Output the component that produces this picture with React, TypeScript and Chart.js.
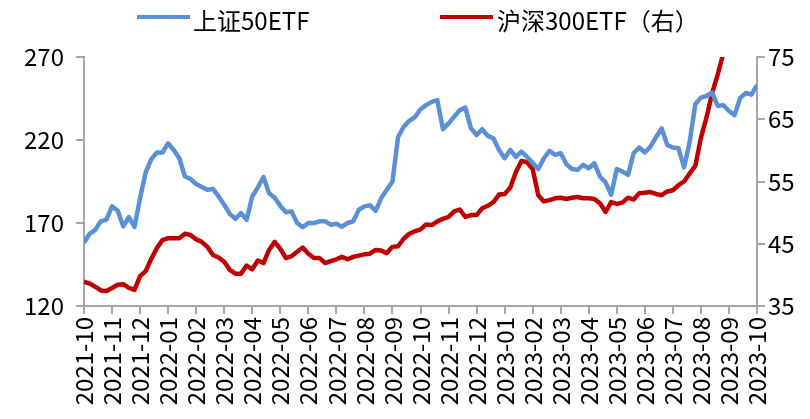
import React, { useEffect, useRef } from 'react';
import { Chart, registerables } from 'chart.js';

Chart.register(...registerables);

// Month tick labels (x axis), one per month
const monthLabels = [
  '2021-10', '2021-11', '2021-12', '2022-01', '2022-02', '2022-03', '2022-04',
  '2022-05', '2022-06', '2022-07', '2022-08', '2022-09', '2022-10', '2022-11',
  '2022-12', '2023-01', '2023-02', '2023-03', '2023-04', '2023-05', '2023-06',
  '2023-07', '2023-08', '2023-09', '2023-10',
];

// Samples every 0.2 month starting 2021-10
const SAMPLE_STEP = 0.2;

// 上证50ETF (left axis)
const sz50 = [
  158, 163.5, 165.8, 171, 172, 180, 177.5, 168, 173.5, 167.6,
  185, 200.5, 208.5, 212.5, 212.5, 218, 214, 209, 198, 196.5,
  193.5, 191.7, 190, 190.5, 186, 181, 175.5, 172.5, 176, 172,
  186, 191.5, 197.7, 188, 185.2, 180.3, 176.5, 177, 170, 167.5,
  170, 170, 171, 171, 169, 169.5, 167.8, 170, 171, 178,
  180, 180.7, 177.3, 185, 190, 195, 221.8, 228, 231.5, 233.8,
  238.5, 241, 243, 244, 226.5, 230, 234, 238, 239.5, 227,
  223, 226.5, 222.5, 221, 214, 209, 214, 209.8, 213, 209.8,
  206.2, 202.5, 209, 213.5, 211, 212, 205.5, 202.5, 202, 205,
  203, 206, 198, 194.5, 187, 202.5, 201, 199, 212, 215.5,
  212.5, 216, 221.8, 227, 217, 215.5, 215, 203.5, 219, 241.5,
  245.5, 246.5, 248.5, 240.5, 241, 237.5, 235, 245.3, 248.3, 247.3,
  253,
];

// 沪深300ETF (right axis)
const hs300 = [
  38.9, 38.6, 38.1, 37.5, 37.4, 37.9, 38.4, 38.5, 37.9, 37.6,
  39.8, 40.6, 42.6, 44.3, 45.6, 45.9, 45.9, 45.9, 46.6, 46.4,
  45.7, 45.3, 44.5, 43.2, 42.8, 42.1, 40.8, 40.2, 40.2, 41.5,
  40.9, 42.3, 41.9, 44, 45.3, 44.2, 42.7, 43, 43.7, 44.4,
  43.4, 42.7, 42.7, 41.9, 42.2, 42.5, 42.9, 42.5, 42.9, 43.1,
  43.3, 43.4, 44, 43.9, 43.5, 44.5, 44.6, 45.8, 46.6, 47,
  47.3, 48.1, 48, 48.6, 49, 49.3, 50.2, 50.5, 49.3, 49.6,
  49.6, 50.7, 51.1, 51.7, 52.9, 53, 54, 56.5, 58.3, 58.1,
  57, 52.8, 51.8, 52, 52.3, 52.4, 52.2, 52.4, 52.5, 52.3,
  52.3, 52.2, 51.5, 50.1, 51.7, 51.4, 51.6, 52.4, 52.1, 53.1,
  53.2, 53.3, 53, 52.8, 53.4, 53.6, 54.4, 55, 56.3, 57.5,
  62, 65.3, 69.2, 72.2, 75.6, 78, 80, 81.5, 83, 84,
  85,
];

const leftTicks = [120, 170, 220, 270];
const rightTicks = [35, 45, 55, 65, 75];

const BLUE = '#5B8FD6';
const RED = '#C00000';
const AXIS = '#A6A6A6';
const FONT = "'Noto Sans CJK SC', 'Liberation Sans', sans-serif";

export default function App() {
  const ref = useRef<HTMLCanvasElement>(null);

  useEffect(() => {
    const chart = new Chart(ref.current!, {
      type: 'line',
      data: {
        datasets: [
          {
            label: '上证50ETF',
            data: sz50.map((v, i) => ({ x: i * SAMPLE_STEP, y: v })),
            borderColor: BLUE,
            backgroundColor: BLUE,
            borderWidth: 4.5,
            pointRadius: 0,
            tension: 0,
            borderJoinStyle: 'round',
            yAxisID: 'y',
          },
          {
            label: '沪深300ETF（右）',
            data: hs300.map((v, i) => ({ x: i * SAMPLE_STEP, y: v })),
            borderColor: RED,
            backgroundColor: RED,
            borderWidth: 4.5,
            pointRadius: 0,
            tension: 0,
            borderJoinStyle: 'round',
            yAxisID: 'y1',
            clip: 0,
          },
        ],
      },
      options: {
        animation: false,
        responsive: false,
        maintainAspectRatio: false,
        layout: { padding: { top: 57, left: 0, right: 0, bottom: 0 } },
        plugins: { legend: { display: false }, tooltip: { enabled: false } },
        scales: {
          x: {
            type: 'linear',
            min: 0,
            max: monthLabels.length - 1,
            afterBuildTicks: (s: any) => {
              s.ticks = monthLabels.map((_, i) => ({ value: i }));
            },
            ticks: {
              autoSkip: false,
              maxRotation: 90,
              minRotation: 90,
              padding: 3,
              color: '#000',
              font: { family: FONT, size: 24 },
              callback: (v: any) => monthLabels[Math.round(v)] ?? '',
            },
            grid: { drawOnChartArea: false, tickLength: 8, color: AXIS, lineWidth: 2 },
            border: { color: AXIS, width: 2 },
            afterFit: (s: any) => { s.height = 113; },
          },
          y: {
            position: 'left',
            min: 120,
            max: 270,
            afterBuildTicks: (s: any) => { s.ticks = leftTicks.map((v) => ({ value: v })); },
            ticks: { padding: 12, color: '#000', font: { family: FONT, size: 24 } },
            grid: { drawOnChartArea: false, tickLength: 8, color: AXIS, lineWidth: 2 },
            border: { color: AXIS, width: 2 },
            afterFit: (s: any) => { s.width = 84; },
          },
          y1: {
            position: 'right',
            min: 35,
            max: 75,
            afterBuildTicks: (s: any) => { s.ticks = rightTicks.map((v) => ({ value: v })); },
            ticks: { padding: 3, color: '#000', font: { family: FONT, size: 24 } },
            grid: { drawOnChartArea: false, tickLength: 8, color: AXIS, lineWidth: 2 },
            border: { color: AXIS, width: 2 },
            afterFit: (s: any) => { s.width = 53; },
          },
        },
      },
    });
    return () => chart.destroy();
  }, []);

  const legendText: React.CSSProperties = {
    position: 'absolute',
    top: 5,
    fontFamily: FONT,
    fontSize: 24,
    lineHeight: '30px',
    color: '#000',
    whiteSpace: 'nowrap',
  };
  const bar: React.CSSProperties = { position: 'absolute', top: 15, width: 53, height: 4 };

  return (
    <div style={{ position: 'absolute', left: 0, top: 0, width: 810, height: 419, background: '#fff' }}>
      <canvas ref={ref} width={810} height={419} style={{ position: 'absolute', left: 0, top: 0 }} />
      <div style={{ ...bar, left: 137, background: BLUE }} />
      <div style={{ ...legendText, left: 193 }}>上证50ETF</div>
      <div style={{ ...bar, left: 440, background: RED }} />
      <div style={{ ...legendText, left: 497 }}>沪深300ETF（右）</div>
    </div>
  );
}
